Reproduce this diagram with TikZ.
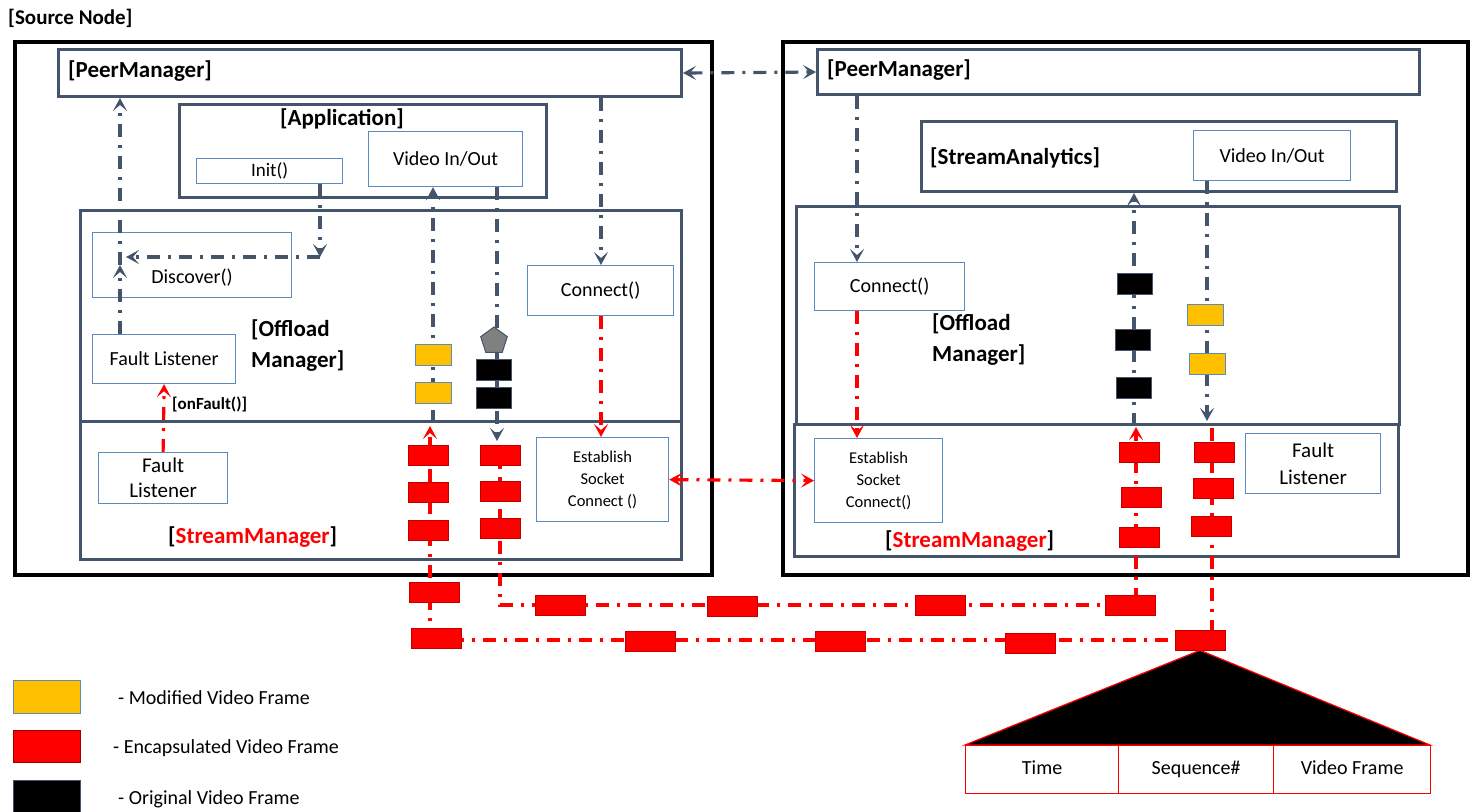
\documentclass[tikz,border=0pt]{standalone}
\usepackage{fontspec}
\setmainfont{Carlito}
\usetikzlibrary{arrows.meta,shapes.geometric}
\definecolor{slate}{HTML}{44546A}
\definecolor{subblue}{HTML}{5B8BC0}
\definecolor{frameorange}{HTML}{FFC000}
\tikzset{
  bigbox/.style={draw=black,line width=3.5pt,anchor=north west,inner sep=0pt},
  mgrbox/.style={draw=slate,line width=3pt,anchor=north west,inner sep=0pt},
  subbox/.style={draw=subblue,line width=1.2pt,fill=white,align=center,anchor=north west,inner sep=0pt,font=\fontsize{20}{25}\selectfont},
  boldlbl/.style={font=\bfseries\fontsize{23}{27}\selectfont,anchor=west,inner sep=0pt},
  flow/.style={draw=slate,line width=3.2pt,dash pattern=on 13pt off 8pt on 3pt off 8pt},
  rflow/.style={draw=red,line width=3.2pt,dash pattern=on 13pt off 8pt on 3pt off 8pt},
  tip/.style={-{Stealth[length=13pt,width=14pt,inset=6pt]}},
  tips/.style={{Stealth[length=13pt,width=14pt,inset=6pt]}-{Stealth[length=13pt,width=14pt,inset=6pt]}},
  oframe/.style={fill=frameorange,draw=subblue,line width=0.8pt,minimum width=36pt,minimum height=21pt,inner sep=0pt},
  kframe/.style={fill=black,draw=slate,line width=0.8pt,minimum width=35pt,minimum height=21pt,inner sep=0pt},
  rframe/.style={fill=red,draw=red!75!black,line width=0.6pt,minimum width=40pt,minimum height=20pt,inner sep=0pt},
  rwide/.style={rframe,minimum width=50pt},
  celltxt/.style={draw=red,line width=1.2pt,anchor=north west,minimum height=48pt,inner sep=0pt,text height=14pt,text depth=5pt,font=\fontsize{20}{24}\selectfont},
  legtxt/.style={anchor=west,inner sep=0pt,font=\fontsize{20}{24}\selectfont},
}
\begin{document}
\begin{tikzpicture}[x=1pt,y=-1pt]
\useasboundingbox (0,0) rectangle (1471,811);

\node[anchor=west,inner sep=0pt,font=\bfseries\fontsize{21}{24}\selectfont] (srclbl) at (8,18) {[Source Node]};

% ---------- outer boxes
\node[bigbox,minimum width=697pt,minimum height=533pt] (srcnode) at (13,40) {};
\node[bigbox,minimum width=685pt,minimum height=533pt] (dstnode) at (781,40) {};

% ---------- left node
\node[mgrbox,minimum width=623pt,minimum height=47pt] (pm1) at (57,48) {};
\node[boldlbl] (pm1l) at (68,71) {[PeerManager]};
\node[mgrbox,minimum width=367pt,minimum height=93pt] (app) at (178,103) {};
\node[font=\bfseries\fontsize{23}{27}\selectfont,inner sep=0pt] (appl) at (342,119) {[Application]};
\node[subbox,minimum width=146pt,minimum height=25pt,font=\fontsize{19}{22}\selectfont] (init) at (196,158) {Init()};
\node[subbox,minimum width=154pt,minimum height=55pt] (vio1) at (368,131) {Video In/Out};
\node[mgrbox,minimum width=601pt,minimum height=211pt] (om1) at (79,209) {};
\node[mgrbox,minimum width=601pt,minimum height=138pt] (sm1) at (79,420) {};
\node[subbox,minimum width=199pt,minimum height=65pt] (disc) at (92,232) {};
\node[inner sep=0pt,font=\fontsize{20}{24}\selectfont] (discl) at (192,278) {Discover()};
\node[subbox,minimum width=143pt,minimum height=49pt] (fl1) at (92,334) {Fault Listener};
\node[subbox,minimum width=146pt,minimum height=50pt] (conn1) at (527,265) {Connect()};
\node[subbox,minimum width=129pt,minimum height=51pt,font=\fontsize{21}{25}\selectfont] (fl2) at (98,452) {Fault\\Listener};
\node[subbox,minimum width=132pt,minimum height=84pt,font=\fontsize{16.5}{22}\selectfont] (est1) at (536,437) {Establish\\Socket\\Connect ()};
\node[anchor=west,align=left,inner sep=0pt,font=\bfseries\fontsize{23}{31}\selectfont] (om1l) at (251,346) {[Offload\\Manager]};
\node[anchor=west,inner sep=0pt,font=\bfseries\fontsize{17}{20}\selectfont] (onf) at (172,404) {[onFault()]};
\node[boldlbl] (sm1l) at (168,537) {[\textcolor{red}{StreamManager}]};

% ---------- right node
\node[mgrbox,minimum width=602pt,minimum height=45pt] (pm2) at (816,48) {};
\node[boldlbl] (pm2l) at (827,70) {[PeerManager]};
\node[mgrbox,minimum width=475pt,minimum height=70pt] (sa) at (920,120) {};
\node[boldlbl] (sal) at (930,158) {[StreamAnalytics]};
\node[subbox,minimum width=157pt,minimum height=50pt] (vio2) at (1193,130) {Video In/Out};
\node[mgrbox,minimum width=603pt,minimum height=218pt] (om2) at (795,205) {};
\node[mgrbox,minimum width=604pt,minimum height=132pt] (sm2) at (793,423) {};
\node[subbox,minimum width=150pt,minimum height=48pt] (conn2) at (814,262) {Connect()};
\node[subbox,minimum width=128pt,minimum height=84pt,font=\fontsize{16.5}{22}\selectfont] (est2) at (814,438) {Establish\\Socket\\Connect()};
\node[subbox,minimum width=135pt,minimum height=60pt,font=\fontsize{21}{27}\selectfont] (fl3) at (1245,433) {Fault\\Listener};
\node[anchor=west,align=left,inner sep=0pt,font=\bfseries\fontsize{23}{31}\selectfont] (om2l) at (932,340) {[Offload\\Manager]};
\node[boldlbl] (sm2l) at (885,541) {[\textcolor{red}{StreamManager}]};

% ---------- coordinates
\coordinate (xup) at (120,265);
\coordinate (icorner) at (320,257);
\coordinate (ileft) at (126,257);
\coordinate (xc1) at (601,0);
\coordinate (xc2) at (857,0);
\coordinate (xr1) at (433,0);
\coordinate (xd1) at (497,0);
\coordinate (xu2) at (1134,0);
\coordinate (xd2) at (1207,0);
\coordinate (d1end) at (497,441);
\coordinate (d2end) at (1207,421);
\coordinate (o1a) at (500,445);
\coordinate (o1b) at (500,605);
\coordinate (o1c) at (1136,605);
\coordinate (o1d) at (1136,427);
\coordinate (o2a) at (1212,428);
\coordinate (o2b) at (1212,640);
\coordinate (o2c) at (430,640);
\coordinate (o2d) at (430,426);

% ---------- slate connectors
\draw[flow,tips] (pm1.east) -- (pm2.west);
\draw[flow,tip] (fl1.north -| xup) -- (xup);
\draw[flow,tip] (xup) -- (pm1.south -| xup);
\draw[flow,tip] (init.south -| icorner) -- (icorner);
\draw[flow,tip] (icorner) -- (ileft);
\draw[flow,tip] (pm1.south -| xc1) -- (conn1.north -| xc1);
\draw[flow,tip] (pm2.south -| xc2) -- (conn2.north -| xc2);
\draw[flow,tip] (om1.south -| xr1) -- (vio1.south -| xr1);
\draw[flow,tip] (vio1.south -| xd1) -- (d1end);
\draw[flow,tip] (om2.south -| xu2) -- (sa.south -| xu2);
\draw[flow,tip] (vio2.south -| xd2) -- (d2end);

% ---------- red connectors
\draw[rflow,tip] (conn1.south -| xc1) -- (est1.north -| xc1);
\draw[rflow,tip] (conn2.south -| xc2) -- (est2.north -| xc2);
\draw[rflow,tip] (fl2.north) -- (fl1.south);
\draw[rflow,tips] (est1.east) -- (est2.west);
\draw[rflow,tip] (o1a) -- (o1b) -- (o1c) -- (o1d);
\draw[rflow,tip] (o2a) -- (o2b) -- (o2c) -- (o2d);

% ---------- frames, left node
\node[oframe] (of1) at (433,355) {};
\node[oframe] (of2) at (433,393) {};
\node[regular polygon,regular polygon sides=5,fill=gray,draw=slate,line width=1pt,minimum size=28pt,inner sep=0pt] (pent) at (494,341) {};
\node[kframe] (kf1) at (494,370) {};
\node[kframe] (kf2) at (494,398) {};
\node[rframe] (rf1) at (428,455) {};
\node[rframe] (rf2) at (428,492) {};
\node[rframe] (rf3) at (428,530) {};
\node[rframe] (rf4) at (500,455) {};
\node[rframe] (rf5) at (500,491) {};
\node[rframe] (rf6) at (500,528) {};

% ---------- frames between nodes
\node[rwide] (rw1) at (434,592) {};
\node[rwide] (rw2) at (436,638) {};
\node[rwide] (rw3) at (560,605) {};
\node[rwide] (rw4) at (732,606) {};
\node[rwide] (rw5) at (940,605) {};
\node[rwide] (rw6) at (1130,605) {};
\node[rwide] (rw7) at (650,641) {};
\node[rwide] (rw8) at (840,641) {};
\node[rwide] (rw9) at (1030,643) {};
\node[rwide] (rw10) at (1200,640) {};

% ---------- frames, right node
\node[kframe] (kf3) at (1135,284) {};
\node[kframe] (kf4) at (1133,340) {};
\node[kframe] (kf5) at (1134,388) {};
\node[oframe] (of3) at (1205,315) {};
\node[oframe] (of4) at (1207,364) {};
\node[rframe] (rf7) at (1139,452) {};
\node[rframe] (rf8) at (1141,497) {};
\node[rframe] (rf9) at (1139,537) {};
\node[rframe] (rf10) at (1214,452) {};
\node[rframe] (rf11) at (1213,488) {};
\node[rframe] (rf12) at (1211,526) {};

% ---------- frame structure
\filldraw[fill=black,draw=red,line width=1.2pt] (rw10.south) -- (1430,745) -- (965,745) -- cycle;
\node[celltxt,minimum width=153pt] (ct1) at (965,745) {Time};
\node[celltxt,minimum width=155pt] (ct2) at (1118,745) {Sequence\#};
\node[celltxt,minimum width=157pt] (ct3) at (1273,745) {Video Frame};

% ---------- legend
\node[fill=frameorange,draw=subblue,line width=1pt,minimum width=67pt,minimum height=33pt,inner sep=0pt,anchor=north west] (lo) at (13,680) {};
\node[legtxt] (lot) at (118,698) {- Modified Video Frame};
\node[fill=red,draw=red!60!black,line width=1pt,minimum width=67pt,minimum height=32pt,inner sep=0pt,anchor=north west] (lr) at (13,730) {};
\node[legtxt] (lrt) at (113,748) {- Encapsulated Video Frame};
\node[fill=black,draw=slate,line width=1pt,minimum width=67pt,minimum height=33pt,inner sep=0pt,anchor=north west] (lk) at (13,780) {};
\node[legtxt] (lkt) at (118,799) {- Original Video Frame};
\end{tikzpicture}
\end{document}
